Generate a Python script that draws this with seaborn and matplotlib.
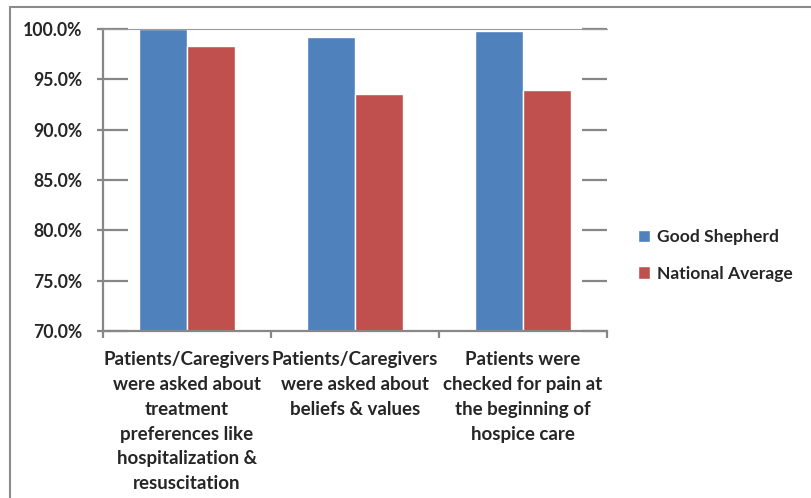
import pandas as pd
import matplotlib.pyplot as plt
import matplotlib.ticker as mticker
import seaborn as sns
from matplotlib.patches import Rectangle

categories = [
    'Patients/Caregivers\nwere asked about\ntreatment\npreferences like\nhospitalization &\nresuscitation',
    'Patients/Caregivers\nwere asked about\nbeliefs & values',
    'Patients were\nchecked for pain at\nthe beginning of\nhospice care',
]
series = ['Good Shepherd', 'National Average']
good_shepherd = [100.0, 99.2, 99.8]
national_avg = [98.3, 93.5, 93.9]
yticks = [70, 75, 80, 85, 90, 95, 100]

df = pd.DataFrame({
    'category': categories * 2,
    'series': [series[0]] * 3 + [series[1]] * 3,
    'value': good_shepherd + national_avg,
})

sns.set_style('white')
plt.rcParams['font.family'] = ['Lato', 'DejaVu Sans']
plt.rcParams['font.weight'] = 'bold'

fig = plt.figure(figsize=(8.12, 4.98), dpi=100)
ax = fig.add_axes([103 / 812, 1 - 331 / 498, (607 - 103) / 812, (331 - 29) / 498])

sns.barplot(data=df, x='category', y='value', hue='series', order=categories,
            hue_order=series, palette=['#4F81BD', '#C0504D'], width=0.57,
            saturation=1, ax=ax, legend=True)

ax.set_ylim(70, 100)
ax.set_xlim(-0.5, 2.5)
ax.set_yticks(yticks)
ax.yaxis.set_major_formatter(mticker.FuncFormatter(lambda v, p: f'{v:.1f}%'))
ax.set_xlabel('')
ax.set_ylabel('')

grey = '#878787'
for s in ['left', 'bottom']:
    ax.spines[s].set_color(grey)
    ax.spines[s].set_linewidth(1.6)
ax.spines['top'].set_color('#9a9a9a')
ax.spines['top'].set_linewidth(0.8)
ax.spines['right'].set_visible(False)

# y ticks: long inward on both sides, short stub outside on the left
ax.tick_params(axis='y', which='major', left=True, right=True, direction='in',
               length=18, width=1.6, color=grey, labelsize=12.7, pad=15)
ax.yaxis.remove_overlapping_locs = False
ax.yaxis.set_minor_locator(mticker.FixedLocator(yticks))
ax.tick_params(axis='y', which='minor', left=True, right=False, direction='out',
               length=4.5, width=1.6, color=grey)

# x ticks at category boundaries
ax.xaxis.set_minor_locator(mticker.FixedLocator([-0.5, 0.5, 1.5, 2.5]))
ax.tick_params(axis='x', which='minor', bottom=True, direction='out',
               length=5, width=1.6, color=grey)
ax.tick_params(axis='x', which='major', bottom=False, labelsize=13.5, pad=11)
for lbl in ax.get_xticklabels():
    lbl.set_horizontalalignment('center')
    lbl.set_linespacing(1.56)
for lbl in ax.get_yticklabels() + ax.get_xticklabels():
    lbl.set_fontweight('bold')

leg = ax.legend(loc='center left', bbox_to_anchor=(1.047, 0.25), frameon=False,
                handlelength=0.7, handleheight=0.7, handletextpad=0.4,
                labelspacing=1.15, fontsize=12.6, borderaxespad=0)
for t in leg.get_texts():
    t.set_fontweight('bold')

# outer chart border
fig.add_artist(Rectangle((10 / 812, -0.05), 1.1, 1 - 7 / 498 + 0.05,
                         transform=fig.transFigure, fill=False,
                         edgecolor='#8c8c8c', linewidth=1.5, clip_on=False))

fig.savefig('out.png', dpi=100)
